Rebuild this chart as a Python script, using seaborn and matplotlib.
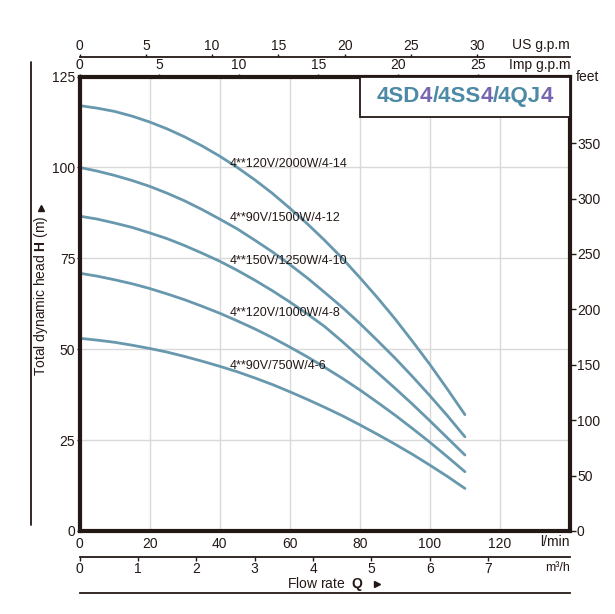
import matplotlib
matplotlib.use('Agg')
import matplotlib.pyplot as plt
import seaborn as sns
import pandas as pd
from matplotlib.lines import Line2D
from matplotlib.patches import Rectangle
from matplotlib.offsetbox import TextArea, HPacker, AnchoredOffsetbox

# Dados (vazao em l/min, altura em m)
flow = [0, 5, 10, 15, 20, 25, 30, 35, 40, 45, 50, 55, 60, 65, 70, 75, 80, 85, 90, 95, 100, 105, 110]
head_4_14 = [117.0, 116.3, 115.4, 114.1, 112.5, 110.6, 108.4, 105.9, 103.1, 100.0, 96.6, 92.9,
             88.8, 84.5, 79.9, 75.0, 69.7, 64.2, 58.4, 52.2, 45.8, 39.0, 32.0]
head_4_12 = [100.0, 99.0, 97.8, 96.4, 94.8, 92.9, 90.8, 88.4, 85.8, 83.1, 80.0, 76.8,
             73.3, 69.6, 65.6, 61.5, 57.1, 52.4, 47.6, 42.5, 37.2, 31.7, 25.9]
head_4_10 = [86.6, 85.8, 84.7, 83.5, 82.0, 80.4, 78.5, 76.4, 74.2, 71.7, 69.0, 66.1,
             63.0, 59.7, 56.2, 52.1, 47.8, 43.6, 39.3, 34.9, 30.3, 25.6, 20.9]
head_4_8 = [70.9, 70.1, 69.1, 68.0, 66.7, 65.2, 63.6, 61.8, 59.9, 57.8, 55.6, 53.2,
            50.6, 47.9, 45.0, 42.0, 38.8, 35.4, 31.9, 28.2, 24.4, 20.4, 16.3]
head_4_6 = [53.0, 52.5, 51.9, 51.1, 50.2, 49.2, 48.0, 46.7, 45.3, 43.8, 42.1, 40.3,
            38.3, 36.2, 34.0, 31.7, 29.2, 26.6, 23.9, 21.1, 18.1, 15.0, 11.7]
models = ['4**120V/2000W/4-14', '4**90V/1500W/4-12', '4**150V/1250W/4-10',
          '4**120V/1000W/4-8', '4**90V/750W/4-6']
heads = [head_4_14, head_4_12, head_4_10, head_4_8, head_4_6]

title_parts = ['4SD', '4', '/4SS', '4', '/4QJ', '4']
lmin_ticks = [0, 20, 40, 60, 80, 100, 120]
head_ticks = [0, 25, 50, 75, 100, 125]
feet_ticks = [0, 50, 100, 150, 200, 250, 300, 350]
us_ticks = [0, 5, 10, 15, 20, 25, 30]
imp_ticks = [0, 5, 10, 15, 20, 25]
m3h_ticks = [0, 1, 2, 3, 4, 5, 6, 7]

rows = []
for m, h in zip(models, heads):
    for q, v in zip(flow, h):
        rows.append({'model': m, 'flow': q, 'head': v})
df = pd.DataFrame(rows)

sns.set_theme(style='white')
plt.rcParams['font.family'] = ['Liberation Sans', 'DejaVu Sans']
plt.rcParams['mathtext.fontset'] = 'custom'
plt.rcParams['mathtext.rm'] = 'Liberation Sans'
plt.rcParams['mathtext.bf'] = 'Liberation Sans:bold'

dark = '#231815'
curve_col = '#6898ae'
blue = '#4d8aa5'
purple = '#7765b0'

fig = plt.figure(figsize=(6.15, 6.14), dpi=100)
ax = fig.add_axes([0.1293, 0.1352, 0.7976, 0.7402])

sns.lineplot(data=df, x='flow', y='head', hue='model', palette=[curve_col] * 5,
             legend=False, lw=2, ax=ax)

ax.set_xlim(0, 140)
ax.set_ylim(0, 125)
ax.set_xticks(lmin_ticks)
ax.set_yticks(head_ticks)
ax.set_xlabel('')
ax.set_ylabel('')
ax.set_axisbelow(True)
ax.grid(True, color='#d9d9d9', lw=1)
for s in ax.spines.values():
    s.set_linewidth(3)
    s.set_color(dark)
ax.tick_params(axis='x', bottom=True, length=0, pad=4, labelsize=10, labelcolor=dark)
ax.tick_params(axis='y', left=True, length=2, width=1, pad=1, labelsize=10, labelcolor=dark, color=dark)

# etiquetas das curvas
lab_y = [101.0, 86.1, 74.3, 60.0, 45.4]
for m, y in zip(models, lab_y):
    ax.text(43, y, m, fontsize=9, ha='left', va='center', color=dark)

# eixo da direita - feet
feet = ax.secondary_yaxis('right', functions=(lambda x: x * 3.2808, lambda x: x / 3.2808))
feet.set_yticks(feet_ticks)
feet.tick_params(right=True, length=4, width=1, pad=1, labelsize=10, color=dark, labelcolor=dark)
feet.spines['right'].set_visible(False)
ax.text(1.012, 1.0, 'feet', transform=ax.transAxes, ha='left', va='center', fontsize=10, color=dark)

# Imp g.p.m no topo do grafico
imp = ax.secondary_xaxis('top', functions=(lambda x: x / 4.546, lambda x: x * 4.546))
imp.set_xticks(imp_ticks)
imp.tick_params(top=True, length=2, width=1, pad=1, labelsize=10, color=dark, labelcolor=dark)
imp.spines['top'].set_visible(False)
ax.text(1.0, 1.025, 'Imp g.p.m', transform=ax.transAxes, ha='right', va='center', fontsize=10, color=dark)

# US g.p.m
us = ax.secondary_xaxis(1.043, functions=(lambda x: x / 3.785, lambda x: x * 3.785))
us.set_xticks(us_ticks)
us.tick_params(top=True, length=2, width=1, pad=1, labelsize=10, color=dark, labelcolor=dark)
us.spines['top'].set_linewidth(1.3)
us.spines['top'].set_color(dark)
ax.text(1.0, 1.069, 'US g.p.m', transform=ax.transAxes, ha='right', va='center', fontsize=10, color=dark)

ax.text(1.0, -0.024, 'l/min', transform=ax.transAxes, ha='right', va='center', fontsize=10, color=dark)

# m3/h
m3h = ax.secondary_xaxis(-0.057, functions=(lambda x: x * 0.06, lambda x: x / 0.06))
m3h.set_xticks(m3h_ticks)
m3h.tick_params(bottom=True, length=3, width=1, pad=1, labelsize=10, color=dark, labelcolor=dark)
m3h.spines['bottom'].set_linewidth(1.3)
m3h.spines['bottom'].set_color(dark)
ax.text(1.0, -0.081, 'm³/h', transform=ax.transAxes, ha='right', va='center', fontsize=9, color=dark)

# linha inferior
base = ax.secondary_xaxis(-0.136)
base.set_xticks([])
base.spines['bottom'].set_linewidth(1.3)
base.spines['bottom'].set_color(dark)

ax.text(0.502, -0.1166, r'Flow rate  $\mathbf{Q}$', transform=ax.transAxes, ha='center', va='center',
        fontsize=10, color=dark)
ax.plot([0.6065], [-0.1166], marker='>', ms=4, color=dark, transform=ax.transAxes, clip_on=False)

# titulo do eixo y
ax.text(-0.0785, 0.517, r'Total dynamic head $\mathbf{H}$ (m)', transform=ax.transAxes, rotation=90,
        ha='center', va='center', fontsize=10, color=dark)
ax.plot([-0.0785], [0.711], marker='^', ms=4, color=dark, transform=ax.transAxes, clip_on=False)
fig.add_artist(Line2D([31 / 615, 31 / 615], [1 - 62 / 614, 1 - 525 / 614], color=dark, lw=1.3))

# caixa do titulo
ax.add_patch(Rectangle((0.572, 0.911), 0.428, 0.089, transform=ax.transAxes, facecolor='white',
                       edgecolor=dark, lw=1.3, zorder=3))
cores = [blue, purple, blue, purple, blue, purple]
parts = [TextArea(t, textprops=dict(color=c, fontsize=16, fontweight='bold')) for t, c in zip(title_parts, cores)]
pack = HPacker(children=parts, sep=0, pad=0, align='baseline')
ab = AnchoredOffsetbox(loc='center', child=pack, pad=0, borderpad=0, frameon=False,
                       bbox_to_anchor=(0.786, 0.955), bbox_transform=ax.transAxes)
ab.set_zorder(4)
ax.add_artist(ab)

fig.savefig('out.png', dpi=100)
